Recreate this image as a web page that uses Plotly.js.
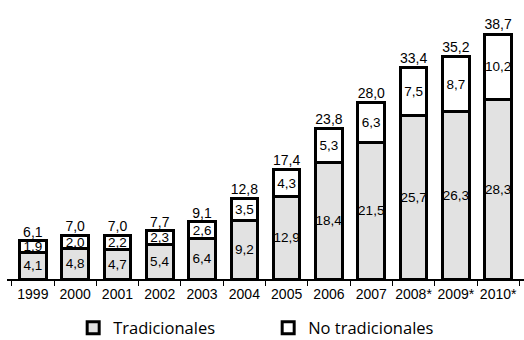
<!DOCTYPE html>
<html>
<head>
<meta charset="utf-8">
<script src="https://cdn.plot.ly/plotly-3.0.1.min.js"></script>
<style>html,body{margin:0;padding:0;background:#fff;}#chart{width:524px;height:340px;}</style>
</head>
<body>
<div id="chart"></div>
<script>
const years = ["1999","2000","2001","2002","2003","2004","2005","2006","2007","2008*","2009*","2010*"];
const tradicionales = [4.1,4.8,4.7,5.4,6.4,9.2,12.9,18.4,21.5,25.7,26.3,28.3];
const noTradicionales = [1.9,2.0,2.2,2.3,2.6,3.5,4.3,5.3,6.3,7.5,8.7,10.2];
const totals = [6.1,7.0,7.0,7.7,9.1,12.8,17.4,23.8,28.0,33.4,35.2,38.7];

const fmt = v => v.toFixed(1).replace('.', ',');
const narrow = '"Liberation Sans Narrow", "Liberation Sans", Arial, sans-serif';

const trTrad = {
  type: 'bar', name: 'Tradicionales', x: years, y: tradicionales,
  marker: {color: '#e2e2e2', line: {color: '#000', width: 3}},
  text: tradicionales.map(fmt), textposition: 'inside', insidetextanchor: 'middle',
  constraintext: 'none', textangle: 0,
  textfont: {family: narrow, size: 13.5, color: '#000'},
  hoverinfo: 'skip'
};
const trNo = {
  type: 'bar', name: 'No tradicionales', x: years, y: noTradicionales,
  marker: {color: '#ffffff', line: {color: '#000', width: 3}},
  text: noTradicionales.map(fmt), textposition: 'inside', insidetextanchor: 'middle',
  constraintext: 'none', textangle: 0,
  textfont: {family: narrow, size: 13.5, color: '#000'},
  hoverinfo: 'skip'
};
const trTot = {
  type: 'scatter', mode: 'text', x: years, y: totals,
  text: totals.map(fmt), textposition: 'top center',
  textfont: {family: narrow, size: 14, color: '#000'},
  showlegend: false, hoverinfo: 'skip', cliponaxis: false
};

const layout = {
  width: 524, height: 340,
  margin: {l: 7, r: 0, t: 5, b: 61, autoexpand: false},
  paper_bgcolor: '#fff', plot_bgcolor: '#fff',
  barmode: 'stack', bargap: 0.37,
  showlegend: true,
  legend: {orientation: 'h', x: 0.128, xanchor: 'left', y: -0.115, yanchor: 'top',
           font: {family: '"Open Sans", sans-serif', size: 16.5, color: '#000'},
           traceorder: 'normal', entrywidth: 150, entrywidthmode: 'pixels'},
  xaxis: {
    type: 'category', showline: true, linecolor: '#000', linewidth: 1.5,
    ticks: 'outside', tickson: 'boundaries', ticklen: 5, tickcolor: '#000', tickwidth: 1,
    tickangle: 0, automargin: false, ticklabelstandoff: 2,
    tickfont: {family: narrow, size: 14, color: '#000'},
    showgrid: false, zeroline: false, fixedrange: true
  },
  yaxis: {
    range: [0, 43.1], visible: false, showgrid: false, zeroline: false, fixedrange: true
  }
};

Plotly.newPlot('chart', [trTrad, trNo, trTot], layout, {displayModeBar: false, staticPlot: true});
</script>
</body>
</html>
